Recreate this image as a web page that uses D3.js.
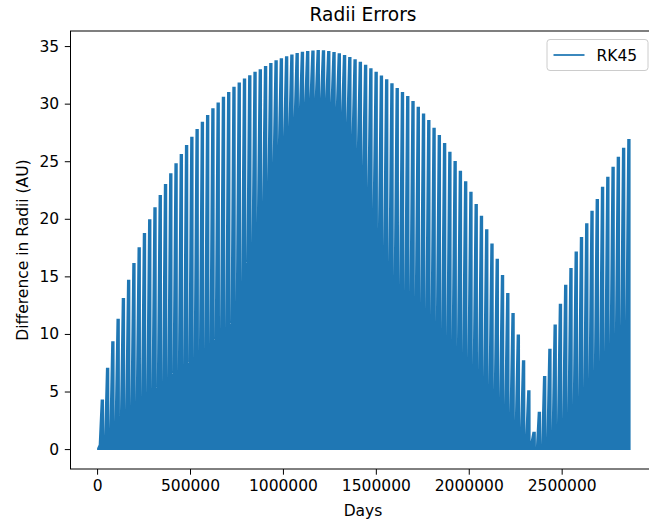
<!DOCTYPE html>
<meta charset="UTF-8">
<script src="https://d3js.org/d3.v7.min.js"></script>
<style>
  body { margin: 0; background: #fff; }
  text { font-family: "DejaVu Sans", sans-serif; }
</style>
<div id="my_dataviz"></div>
<script>

  // one spike per orbit, days between spikes
  const orbitDays = 28335;

  // top of each spike (AU)
  const spikePeaks = [
    4.24, 6.99, 9.30, 11.24, 13.06, 14.64, 16.09, 17.47, 18.69, 19.90,
    20.94, 22.00, 22.96, 23.88, 24.75, 25.56, 26.34, 27.06, 27.72, 28.36,
    28.94, 29.52, 30.04, 30.52, 30.95, 31.39, 31.77, 32.11, 32.40, 32.69,
    32.92, 33.20, 33.45, 33.70, 33.88, 34.05, 34.20, 34.33, 34.43, 34.50,
    34.55, 34.58, 34.56, 34.50, 34.42, 34.30, 34.15, 33.98, 33.78, 33.57,
    33.30, 33.00, 32.70, 32.38, 32.05, 31.70, 31.30, 30.95, 30.60, 30.17,
    29.66, 29.08, 28.50, 27.84, 27.20, 26.51, 25.76, 24.95, 24.11, 23.20,
    22.27, 21.22, 20.19, 19.03, 17.79, 16.45, 15.04, 13.49, 11.76, 9.88,
    7.65, 5.05, 1.44, 3.18, 6.27, 8.64, 10.74, 12.56, 14.21, 15.65,
    17.09, 18.34, 19.55, 20.62, 21.66, 22.72, 23.59, 24.46, 25.32, 26.10,
    26.86
  ];

  // level where the white gap after each spike closes (AU)
  const gapFloors = [
    1.1, 1.7, 2.3, 2.8, 3.3, 3.7, 4.0, 4.4, 4.7, 5.0,
    5.2, 5.7, 6.0, 6.4, 6.7, 7.2, 7.4, 7.8, 8.3, 8.5,
    9.0, 9.4, 9.9, 10.4, 10.8, 12.6, 14.3, 16.1, 17.8, 19.6,
    21.4, 23.2, 24.8, 26.3, 27.1, 27.9, 28.7, 29.5, 30.0, 30.4,
    30.4, 30.4, 30.4, 30.0, 29.6, 29.2, 28.3, 27.2, 26.0, 24.5,
    22.6, 20.8, 19.0, 17.5, 16.0, 14.9, 14.1, 13.6, 13.5, 13.0,
    12.5, 11.9, 11.4, 10.9, 10.3, 9.8, 9.3, 8.7, 8.2, 7.7,
    7.1, 6.6, 6.1, 5.5, 5.0, 4.4, 3.8, 3.1, 2.4, 1.8,
    1.2, 0.6, 0.1, 0.3, 0.9, 1.5, 2.0, 2.5, 3.1, 3.8,
    4.4, 5.1, 5.9, 6.6, 7.4, 8.2, 9.0, 9.8, 10.4, 11.0,
    11.5
  ];

  const xTicks = [0, 500000, 1000000, 1500000, 2000000, 2500000];
  const yTicks = [0, 5, 10, 15, 20, 25, 30, 35];

  // Dimensions
  const W = 649, H = 525;
  const plot = {left: 70.5, right: 655.5, top: 31, bottom: 469};
  const blue = "#1f77b4";

  const svg = d3.select("#my_dataviz")
    .append("svg")
    .attr("width", W)
    .attr("height", H);

  // build the series: spike, drop to the gap floor, climb to next spike
  const lastDay = spikePeaks.length * orbitDays;
  const a = 0.32 * orbitDays, b = 0.02 * orbitDays;
  const series = [[0, 0], [0.3 * orbitDays, 0.3]];
  spikePeaks.forEach((p, i) => {
    const d = (i + 1) * orbitDays;
    series.push([d - a, p]);
    series.push([d + a, p]);
    if (i < spikePeaks.length - 1) series.push([d + a + b, gapFloors[i]]);
  });

  const xPad = 0.05 * lastDay;
  const x = d3.scaleLinear()
    .domain([-xPad, lastDay + xPad])
    .range([plot.left, plot.right]);

  const yMax = d3.max(spikePeaks);
  const y = d3.scaleLinear()
    .domain([-0.05 * yMax, 1.05 * yMax])
    .range([plot.bottom, plot.top]);

  // data
  const area = d3.area()
    .x(d => x(d[0]))
    .y0(y(0) + 0.8)
    .y1(d => y(d[1]) - 0.8);

  svg.append("path")
    .datum(series)
    .attr("d", area)
    .attr("fill", blue);

  // frame
  svg.append("rect")
    .attr("x", plot.left)
    .attr("y", plot.top)
    .attr("width", plot.right - plot.left)
    .attr("height", plot.bottom - plot.top)
    .attr("fill", "none")
    .attr("stroke", "#000")
    .attr("stroke-width", 1);

  // X axis
  const xAxis = svg.append("g")
    .attr("transform", `translate(0,${plot.bottom})`)
    .call(d3.axisBottom(x).tickValues(xTicks).tickFormat(d3.format("d"))
      .tickSize(5.7).tickPadding(5.7));
  xAxis.select(".domain").remove();
  xAxis.selectAll("text").style("font-size", "15.5px").attr("fill", "#000");

  // Y axis
  const yAxis = svg.append("g")
    .attr("transform", `translate(${plot.left},0)`)
    .call(d3.axisLeft(y).tickValues(yTicks).tickSize(5.7).tickPadding(5.7));
  yAxis.select(".domain").remove();
  yAxis.selectAll("text").style("font-size", "15.5px").attr("fill", "#000");

  // labels
  const cx = (plot.left + plot.right) / 2;
  svg.append("text")
    .attr("x", cx)
    .attr("y", 21)
    .attr("text-anchor", "middle")
    .style("font-size", "18.6px")
    .text("Radii Errors");

  svg.append("text")
    .attr("x", cx)
    .attr("y", 516)
    .attr("text-anchor", "middle")
    .style("font-size", "15.5px")
    .text("Days");

  svg.append("text")
    .attr("transform", `translate(28,${(plot.top + plot.bottom) / 2}) rotate(-90)`)
    .attr("text-anchor", "middle")
    .style("font-size", "15.5px")
    .text("Difference in Radii (AU)");

  // Legend
  const legend = svg.append("g")
    .attr("transform", `translate(${plot.right - 8 - 101},${plot.top + 8})`);
  legend.append("rect")
    .attr("x", 0.5).attr("y", 0.5)
    .attr("width", 101).attr("height", 31)
    .attr("rx", 3)
    .attr("fill", "#fff").attr("fill-opacity", 0.8)
    .attr("stroke", "#ccc");
  legend.append("line")
    .attr("x1", 7).attr("x2", 38)
    .attr("y1", 16).attr("y2", 16)
    .attr("stroke", blue).attr("stroke-width", 1.75);
  legend.append("text")
    .attr("x", 50).attr("y", 21.5)
    .style("font-size", "15.5px")
    .text("RK45");

</script>
